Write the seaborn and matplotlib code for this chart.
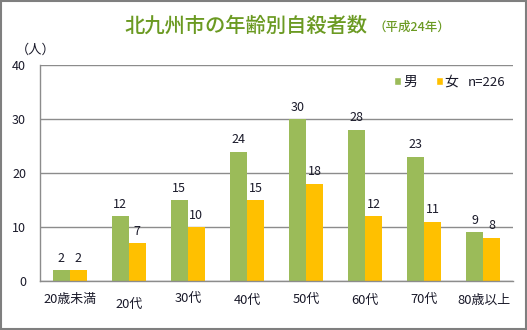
import numpy as np
import pandas as pd
import matplotlib
matplotlib.use("Agg")
import matplotlib.pyplot as plt
from matplotlib.patches import Rectangle, Patch
import seaborn as sns

# ---- data ----
ages = ["20歳未満", "20代", "30代", "40代", "50代", "60代", "70代", "80歳以上"]
male = [2, 12, 15, 24, 30, 28, 23, 9]
female = [2, 7, 10, 15, 18, 12, 11, 8]
series_names = ["男", "女"]
y_ticks = [0, 10, 20, 30, 40]
title_main = "北九州市の年齢別自殺者数"
title_sub = "（平成24年）"
unit_label = "（人）"
n_label = "n=226"

# ---- style ----
sns.set_theme(style="white")
plt.rcParams["font.family"] = ["Noto Sans CJK JP", "DejaVu Sans"]
GREEN = "#9BBB59"
ORANGE = "#FFC000"
TXT = "#1a1a2a"
GRID = "#8c8c8c"
label_offsets = [18, 23, 17.5, 19.5, 18, 19.5, 18, 19.5]

df = pd.DataFrame({
    "age": ages * 2,
    "sex": [series_names[0]] * len(ages) + [series_names[1]] * len(ages),
    "count": male + female,
})

fig = plt.figure(figsize=(5.27, 3.30), dpi=100)
fig.patch.set_facecolor("white")
ax = fig.add_axes([40 / 527, (330 - 281) / 330, (513 - 40) / 527, (281 - 65.3) / 330])

sns.barplot(data=df, x="age", y="count", hue="sex", order=ages, hue_order=series_names,
            palette={series_names[0]: GREEN, series_names[1]: ORANGE},
            width=0.575, saturation=1, ax=ax, legend=False, edgecolor="none", linewidth=0)

for cont in ax.containers:
    ax.bar_label(cont, padding=4, fontsize=9, color=TXT)

ax.set_xlim(-0.5, len(ages) - 0.5)
ax.set_ylim(0, 40)
ax.set_yticks(y_ticks)
ax.yaxis.grid(True, color=GRID, linewidth=1)
ax.set_axisbelow(True)
ax.tick_params(axis="y", length=0, pad=10, labelsize=9, labelcolor=TXT)
ax.set_xticks(np.arange(-0.5, len(ages), 1.0))
ax.set_xticklabels([""] * (len(ages) + 1))
ax.tick_params(axis="x", length=4, width=1, color=GRID, direction="out")
ax.set_xlabel("")
ax.set_ylabel("")
for s in ["top", "right"]:
    ax.spines[s].set_visible(False)
for s in ["left", "bottom"]:
    ax.spines[s].set_color(GRID)
    ax.spines[s].set_linewidth(1)

for i, (lab, off) in enumerate(zip(ages, label_offsets)):
    ax.annotate(lab, xy=(i, 0), xycoords=("data", "axes fraction"),
                xytext=(0, -off), textcoords="offset pixels",
                ha="center", va="center", fontsize=9.3, color=TXT)

# legend
handles = [Patch(facecolor=GREEN, label=series_names[0]),
           Patch(facecolor=ORANGE, label=series_names[1])]
leg = ax.legend(handles=handles, loc="center left", bbox_to_anchor=(394 / 527, (330 - 82) / 330),
                bbox_transform=fig.transFigure, ncol=2, frameon=False, fontsize=10,
                handlelength=0.5, handleheight=0.5, handletextpad=0.15, columnspacing=1.35,
                borderpad=0, borderaxespad=0)
for t in leg.get_texts():
    t.set_color(TXT)
fig.text(468 / 527, (330 - 82) / 330, n_label, ha="left", va="center", fontsize=9.5, color=TXT)

# titles
fig.text(124 / 527, (330 - 26) / 330, title_main, ha="left", va="center",
         fontsize=14.6, color="#6B9A22", fontweight="medium")
fig.text(373 / 527, (330 - 27) / 330, title_sub, ha="left", va="center",
         fontsize=9, color="#6B9A22", fontweight="medium")
fig.text(36 / 527, (330 - 50) / 330, unit_label, ha="center", va="center",
         fontsize=9.5, color=TXT)

# outer border
fig.patches.append(Rectangle((0.002, 0.003), 0.996, 0.994, transform=fig.transFigure,
                             fill=False, edgecolor="#7f7f7f", linewidth=1.5))

fig.savefig("out.png", dpi=100, facecolor="white")
